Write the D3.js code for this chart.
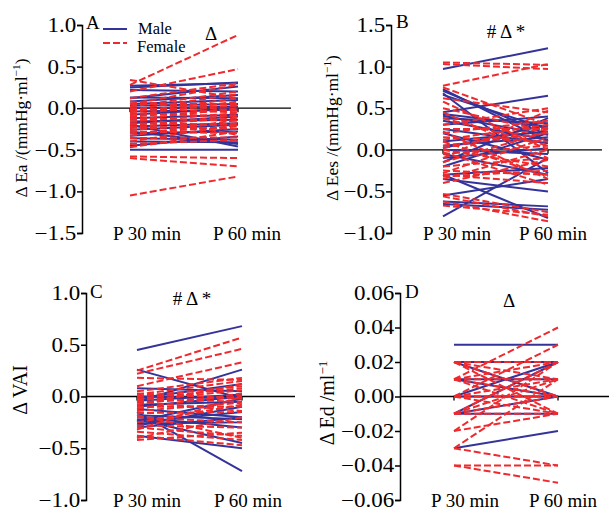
<!DOCTYPE html>
<html><head><meta charset="utf-8">
<script src="https://cdn.jsdelivr.net/npm/d3@7"></script>
<style>body{margin:0;background:#fff}svg{display:block}text{font-family:"Liberation Serif","Times New Roman",serif;}</style>
</head><body><svg id="c" width="609" height="512"></svg>
<script>
const categories = ["P 30 min", "P 60 min"];
const seriesNames = ["Male", "Female"];

// Panel A: ΔEa [P30, P60]
const eaMale = [[0.27,0.30],[0.25,0.31],[0.22,0.20],[0.13,0.12],[0.12,0.26],[0.08,0.16],[0.03,0.05],[0.0,0.02],[-0.04,-0.02],[-0.08,0.0],[-0.12,-0.08],[-0.16,-0.14],[-0.2,-0.46],[-0.22,-0.18],[-0.26,-0.2],[-0.3,-0.28],[-0.33,-0.25],[-0.36,-0.38],[-0.4,-0.41],[-0.45,-0.34],[-0.5,-0.5],[-0.28,-0.43],[-0.18,-0.1],[0.05,0.1]];
const eaFemale = [[0.34,0.12],[0.28,0.88],[0.2,0.47],[0.12,0.3],[0.05,0.28],[0.02,0.2],[-0.02,0.17],[0.05,0.05],[0.0,-0.05],[-0.03,0.03],[-0.06,-0.1],[-0.08,0.08],[-0.1,-0.02],[-0.12,-0.15],[-0.14,0.0],[-0.16,-0.06],[-0.18,-0.2],[-0.2,-0.12],[-0.22,-0.25],[-0.24,-0.08],[-0.26,-0.18],[-0.28,-0.3],[-0.3,-0.22],[-0.33,-0.14],[-0.36,-0.35],[-0.4,-0.2],[-0.43,-0.38],[-0.47,-0.28],[-0.58,-0.6],[-0.6,-0.7],[-1.05,-0.82],[0.08,-0.03],[-0.05,0.12],[-0.1,-0.32]];
// Panel B: ΔEes
const eesMale = [[0.97,1.22],[0.73,0.1],[0.71,0.18],[0.68,-0.28],[0.66,0.25],[0.45,0.65],[0.43,0.28],[0.41,0.18],[0.38,0.32],[0.35,0.12],[0.3,0.4],[0.25,0.08],[0.2,-0.12],[0.05,0.15],[0.02,0.3],[-0.05,-0.3],[-0.1,0.02],[-0.15,0.38],[-0.2,0.2],[-0.3,-0.22],[-0.35,-0.5],[-0.3,-0.82],[-0.8,-0.1],[-0.62,-0.68],[-0.65,-0.72],[-0.55,-0.35],[0.1,0.22],[0.0,-0.05]];
const eesFemale = [[1.05,1.02],[1.03,0.97],[0.77,1.03],[0.75,0.3],[0.62,0.45],[0.58,0.0],[0.5,0.22],[0.45,-0.1],[0.38,0.05],[0.3,0.5],[0.25,0.25],[0.2,0.35],[0.15,0.1],[0.1,-0.32],[0.05,0.2],[0.0,-0.2],[-0.05,0.05],[-0.1,0.47],[-0.2,-0.1],[-0.25,-0.3],[-0.28,0.15],[-0.3,-0.4],[-0.32,-0.25],[-0.35,0.0],[-0.4,-0.12],[-0.53,-0.75],[-0.56,-0.8],[-0.62,-0.86],[-0.67,-0.78],[0.02,0.27],[0.22,-0.35],[0.12,0.3],[-0.15,0.22],[-0.03,-0.42]];
// Panel C: ΔVAI
const vaiMale = [[0.45,0.68],[0.26,-0.02],[-0.05,0.26],[0.08,0.05],[0.0,-0.02],[-0.04,0.02],[-0.08,-0.05],[-0.12,-0.2],[-0.15,-0.72],[-0.2,-0.3],[-0.22,-0.45],[-0.25,-0.15],[-0.28,-0.1],[-0.3,-0.2],[-0.38,-0.5],[-0.24,-0.02],[-0.18,-0.22],[-0.02,0.12],[-0.1,0.0],[-0.26,-0.25]];
const vaiFemale = [[0.25,0.57],[0.22,0.46],[0.1,0.33],[0.05,0.18],[0.02,0.15],[0.0,0.1],[-0.02,-0.05],[-0.04,0.06],[-0.06,0.0],[-0.08,0.12],[-0.1,-0.1],[-0.12,0.03],[-0.14,-0.06],[-0.05,-0.14],[-0.02,0.08],[0.03,-0.02],[-0.16,-0.15],[-0.2,-0.25],[-0.25,-0.08],[-0.28,-0.3],[-0.3,-0.38],[-0.34,-0.42],[-0.38,-0.47],[-0.4,-0.2],[-0.42,-0.35],[-0.32,0.0],[-0.18,-0.4],[0.18,0.16]];
// Panel D: ΔEd
const edMale = [[0.03,0.03],[0.02,0.02],[0.02,0.0],[0.01,0.01],[0.0,0.02],[0.0,0.0],[-0.01,-0.01],[-0.01,0.02],[-0.03,-0.02],[-0.01,0.0],[0.01,0.0]];
const edFemale = [[0.01,0.04],[0.0,0.03],[0.02,0.01],[0.02,0.02],[0.01,0.02],[0.01,0.0],[0.01,0.01],[0.0,0.01],[0.0,-0.01],[0.0,0.0],[-0.01,0.0],[-0.01,0.01],[-0.01,-0.01],[0.02,0.0],[0.01,-0.01],[-0.02,0.02],[-0.03,0.01],[-0.02,-0.01],[-0.03,-0.04],[-0.04,-0.04],[-0.04,-0.05],[0.02,-0.01],[-0.01,0.02]];

const eaTicks = [1.0,0.5,0.0,-0.5,-1.0,-1.5];
const eesTicks = [1.5,1.0,0.5,0.0,-0.5,-1.0];
const vaiTicks = [1.0,0.5,0.0,-0.5,-1.0];
const edTicks = [0.06,0.04,0.02,0.00,-0.02,-0.04,-0.06];

const BLUE = "#34339a", RED = "#ee2a2e";
const svg = d3.select("#c");

const panels = [
  {letter:"A", male:eaMale, female:eaFemale, ticks:eaTicks, fmt:d3.format(".1f"), ax:82, top:25, bot:233, x0:130, x1:238, l0:147, l1:247, zEnd:291, labY:240,
   title:["Δ Ea /(mmHg·ml","−1",")"], tfs:17.5, tx:27, ty:128, sig:"Δ", sx:211, sy:40, lx:86, ly:29},
  {letter:"B", male:eesMale, female:eesFemale, ticks:eesTicks, fmt:d3.format(".1f"), ax:391, top:25, bot:233, x0:443, x1:548, l0:457, l1:553, zEnd:602, labY:240,
   title:["Δ Ees /(mmHg·ml","−1",")"], tfs:17.5, tx:338, ty:128, sig:"# Δ *", sx:506, sy:38, lx:396, ly:28},
  {letter:"C", male:vaiMale, female:vaiFemale, ticks:vaiTicks, fmt:d3.format(".1f"), ax:86, top:293, bot:500, x0:137, x1:242, l0:147, l1:248, zEnd:295, labY:507,
   title:["Δ VAI"], tfs:20, tx:27, ty:390, sig:"# Δ *", sx:192, sy:305, lx:90, ly:298},
  {letter:"D", male:edMale, female:edFemale, ticks:edTicks, fmt:d3.format(".2f"), ax:400, top:293, bot:500, x0:454, x1:558, l0:465, l1:563, zEnd:609, labY:507,
   title:["Δ Ed /ml","−1",""], tfs:20, tx:334, ty:403, sig:"Δ", sx:509, sy:307, lx:405, ly:298}
];

panels.forEach(p => {
  const ext = d3.extent(p.ticks);
  const y = d3.scaleLinear().domain(ext).range([p.bot, p.top]);
  const x = d3.scalePoint().domain(categories).range([p.x0, p.x1]);
  const xl = d3.scalePoint().domain(categories).range([p.l0, p.l1]);
  const g = svg.append("g");

  // y axis
  const axis = d3.axisLeft(y).tickValues(p.ticks).tickFormat(d => p.fmt(d).replace("-", "−")).tickSize(5).tickPadding(0);
  const ag = g.append("g").attr("transform", `translate(${p.ax},0)`).call(axis);
  ag.select(".domain").attr("stroke", "#000").attr("stroke-width", 1.5);
  ag.selectAll(".tick line").attr("stroke", "#000").attr("stroke-width", 1.5);
  ag.selectAll(".tick text").attr("font-size", 20).attr("fill", "#000").attr("transform", "scale(1.15,1)");

  // zero line
  g.append("line").attr("x1", p.ax).attr("x2", p.zEnd).attr("y1", y(0)).attr("y2", y(0)).attr("stroke", "#000").attr("stroke-width", 1.3);
  categories.forEach(c => g.append("line").attr("x1", x(c)).attr("x2", x(c)).attr("y1", y(0)).attr("y2", y(0) + 4).attr("stroke", "#000").attr("stroke-width", 1.3));

  const line = d3.line().x((d, i) => x(categories[i])).y(d => y(d));
  g.selectAll(".m").data(p.male).join("path").attr("d", line).attr("fill", "none").attr("stroke", BLUE).attr("stroke-width", 2);
  g.selectAll(".f").data(p.female).join("path").attr("d", line).attr("fill", "none").attr("stroke", RED).attr("stroke-width", 2).attr("stroke-dasharray", "7,3");

  // category labels
  categories.forEach(c => g.append("text").attr("x", xl(c)).attr("y", p.labY).attr("text-anchor", "middle").attr("font-size", 19).text(c));

  // y title
  const t = g.append("text").attr("transform", `translate(${p.tx},${p.ty}) rotate(-90)`).attr("text-anchor", "middle").attr("font-size", p.tfs);
  t.append("tspan").text(p.title[0]);
  if (p.title.length > 1) {
    t.append("tspan").attr("dy", -7).attr("font-size", p.tfs * 0.65).text(p.title[1]);
    t.append("tspan").attr("dy", 7).text(p.title[2]);
  }
  // panel letter & significance
  g.append("text").attr("x", p.lx).attr("y", p.ly).attr("font-size", 19).text(p.letter);
  g.append("text").attr("x", p.sx).attr("y", p.sy).attr("text-anchor", "middle").attr("font-size", 19).text(p.sig);
});

// legend in panel A
const lg = svg.append("g");
const legendStyles = [{c:BLUE, dash:null, y:29, ty:34, tx:138}, {c:RED, dash:"7,3", y:43, ty:52, tx:137}];
seriesNames.forEach((s, i) => {
  const st = legendStyles[i];
  lg.append("line").attr("x1", 103).attr("x2", 127).attr("y1", st.y).attr("y2", st.y).attr("stroke", st.c).attr("stroke-width", 2).attr("stroke-dasharray", st.dash);
  lg.append("text").attr("x", st.tx).attr("y", st.ty).attr("font-size", 16.5).text(s);
});
</script></body></html>
